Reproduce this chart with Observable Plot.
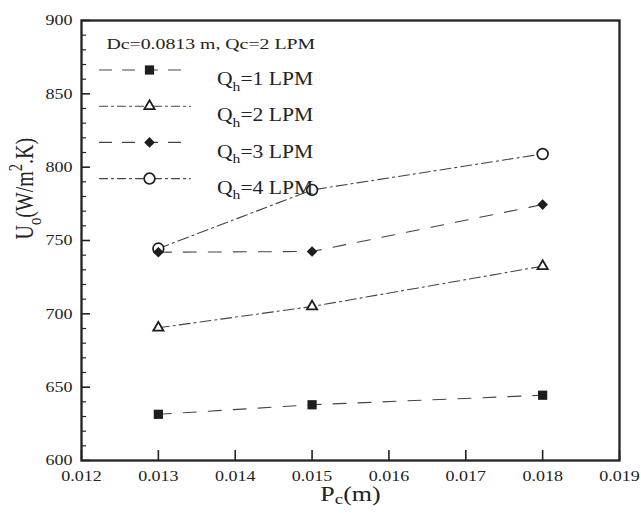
<!DOCTYPE html>
<html><head><meta charset="utf-8">
<script src="https://cdn.jsdelivr.net/npm/d3@7"></script>
<script src="https://cdn.jsdelivr.net/npm/@observablehq/plot@0.6"></script>
<style>html,body{margin:0;padding:0;background:#fff}#chart{position:absolute;left:0;top:0}
#chart svg, #chart svg text {font-family: "Liberation Serif", "Times New Roman", serif !important;}</style>
</head><body><div id="chart"></div>
<script>
// ---- data ----
const pitch = [0.013, 0.015, 0.018];
const seriesNames = ["Q_h=1 LPM", "Q_h=2 LPM", "Q_h=3 LPM", "Q_h=4 LPM"];
const uQh1 = [631.5, 638, 644.5];
const uQh2 = [690.5, 705, 732.5];
const uQh3 = [742, 742.5, 774.5];
const uQh4 = [744.5, 784.5, 809];
const xTicks = [0.012, 0.013, 0.014, 0.015, 0.016, 0.017, 0.018, 0.019];
const yTicks = [600, 650, 700, 750, 800, 850, 900];
const yMinorTicks = [610,620,630,640,660,670,680,690,710,720,730,740,760,770,780,790,810,820,830,840,860,870,880,890];
const annotation = "Dc=0.0813 m, Qc=2 LPM";
const xTitle = "P_c(m)";
const yTitle = "U_o(W/m^2.K)";

// ---- styles ----
const seriesValues = [uQh1, uQh2, uQh3, uQh4];
const styles = [
  {symbol: "square", r: 5.2, fill: "#1e1e1e", stroke: "none", sw: 0, dash: "13,12", ldash: "12,11"},
  {symbol: "triangle", r: 3.8, fill: "white", stroke: "#1e1e1e", sw: 1.8, dash: "11,4,2,4", ldash: "8,4,2,4"},
  {symbol: "diamond2", r: 4.8, fill: "#1e1e1e", stroke: "none", sw: 0, dash: "13,12", ldash: "12,11"},
  {symbol: "circle", r: 5.4, fill: "white", stroke: "#1e1e1e", sw: 1.7, dash: "11,4,2,4", ldash: "8,4,2,4"}
];
const rows = seriesNames.flatMap((s, i) => pitch.map((p, j) => ({series: s, i, x: p, y: seriesValues[i][j]})));

const W = 641, H = 513, mL = 81, mR = 22, mT = 20, mB = 53;
const fw = W - mL - mR, fh = H - mT - mB;
const ink = "#222";

const lineShape = {draw(ctx, l) { ctx.moveTo(0, 0); ctx.lineTo(0, -l); }};

const marks = [];
seriesNames.forEach((s, i) => {
  marks.push(Plot.line(rows.filter(d => d.i === i), {x: "x", y: "y", stroke: "#444", strokeWidth: 1.1, strokeDasharray: styles[i].dash}));
});
[3, 1, 0, 2].forEach(i => {
  const st = styles[i];
  marks.push(Plot.dot(rows.filter(d => d.i === i), {x: "x", y: "y", symbol: st.symbol, r: st.r, fill: st.fill, stroke: st.stroke, strokeWidth: st.sw}));
});
marks.push(Plot.tickX(xTicks, {x: d => d, insetTop: fh - 10, stroke: ink, strokeWidth: 1.6}));
marks.push(Plot.tickY(yTicks, {y: d => d, insetRight: fw - 9, stroke: ink, strokeWidth: 1.6}));
marks.push(Plot.tickY(yMinorTicks, {y: d => d, insetRight: fw - 5, stroke: ink, strokeWidth: 1.2}));
marks.push(Plot.axisX(xTicks, {tickSize: 0, tickPadding: 10, fontSize: 15, tickFormat: d3.format(".3f"), label: null, fill: ink}));
marks.push(Plot.axisY(yTicks, {tickSize: 0, tickPadding: 9, fontSize: 15, tickFormat: d => String(d), label: null, fill: ink}));
marks.push(Plot.frame({stroke: ink, strokeWidth: 2.3}));
marks.push(Plot.text([yTitle], {text: d => d, frameAnchor: "left", rotate: -90, dx: -57, dy: -1, fontSize: 20, fill: ink}));
marks.push(Plot.text([xTitle], {text: d => d, frameAnchor: "bottom", dy: 40, fontSize: 20, fill: ink}));
marks.push(Plot.text([annotation], {text: d => d, frameAnchor: "top-left", dx: 25, dy: 18, textAnchor: "start", fontSize: 15, fill: ink}));
seriesNames.forEach((s, i) => {
  const st = styles[i];
  const ry = 49.5 + i * 36.2;
  marks.push(Plot.vector([0], {frameAnchor: "top-left", dx: 18, dy: ry, rotate: 90, length: 91, anchor: "start", shape: lineShape, stroke: "#444", strokeWidth: 1.1, strokeDasharray: st.ldash}));
  marks.push(Plot.dot([0], {frameAnchor: "top-left", dx: 68, dy: ry, symbol: st.symbol, r: st.r, fill: st.fill, stroke: st.stroke, strokeWidth: st.sw}));
  marks.push(Plot.text([s], {text: d => d, frameAnchor: "top-left", dx: 135.5, dy: ry + 2.5, textAnchor: "start", fontSize: 18, fill: ink}));
});

const serif = "'Liberation Serif', 'Times New Roman', serif";
const chart = Plot.plot({
  width: W, height: H,
  marginLeft: mL, marginRight: mR, marginTop: mT, marginBottom: mB,
  style: {fontFamily: serif, color: ink, background: "white", overflow: "visible"},
  x: {domain: [0.012, 0.019], axis: null},
  y: {domain: [600, 900], axis: null},
  marks
});
document.getElementById("chart").appendChild(chart);

const svg = d3.select(chart);
svg.selectAll("text").each(function() {
  const t = this;
  const s = t.textContent;
  if (!/[_^]/.test(s)) return;
  const fs = parseFloat(getComputedStyle(t).fontSize) || 18;
  const subShift = s === xTitle ? 0.15 : 0.3;
  const parts = [];
  let buf = "";
  for (let k = 0; k < s.length; k++) {
    const c = s[k];
    if ((c === "_" || c === "^") && k + 1 < s.length) {
      if (buf) parts.push({t: buf, k: 0}); buf = "";
      parts.push({t: s[k + 1], k: c === "_" ? 1 : -1});
      k++;
    } else buf += c;
  }
  if (buf) parts.push({t: buf, k: 0});
  while (t.firstChild) t.removeChild(t.firstChild);
  let shift = 0;
  parts.forEach(p => {
    const ts = document.createElementNS("http://www.w3.org/2000/svg", "tspan");
    const target = p.k === 1 ? subShift * fs : p.k === -1 ? -0.4 * fs : 0;
    const dy = target - shift;
    if (dy) ts.setAttribute("dy", dy.toFixed(2));
    shift = target;
    if (p.k) ts.setAttribute("font-size", (0.72 * fs).toFixed(1));
    ts.textContent = p.t;
    t.appendChild(ts);
  });
});
function stretch(sel, sx, rotated) {
  sel.each(function() {
    const tr = this.getAttribute("transform") || "";
    if (tr) this.setAttribute("transform", tr + (rotated ? ` scale(1,${sx})` : ` scale(${sx},1)`));
    else {
      const x = +this.getAttribute("x") || 0;
      this.setAttribute("transform", `translate(${x},0) scale(${sx},1) translate(${-x},0)`);
    }
  });
}
svg.selectAll("text").each(function() {
  const s = this.textContent;
  const sel = d3.select(this);
  if (s === "Uo(W/m2.K)") stretch(sel, 1.3, true);
  else if (s.startsWith("Dc=")) stretch(sel, 1.32, false);
  else if (s === "Pc(m)") stretch(sel, 1.3, false);
  else stretch(sel, 1.2, false);
});
</script>
</body></html>
